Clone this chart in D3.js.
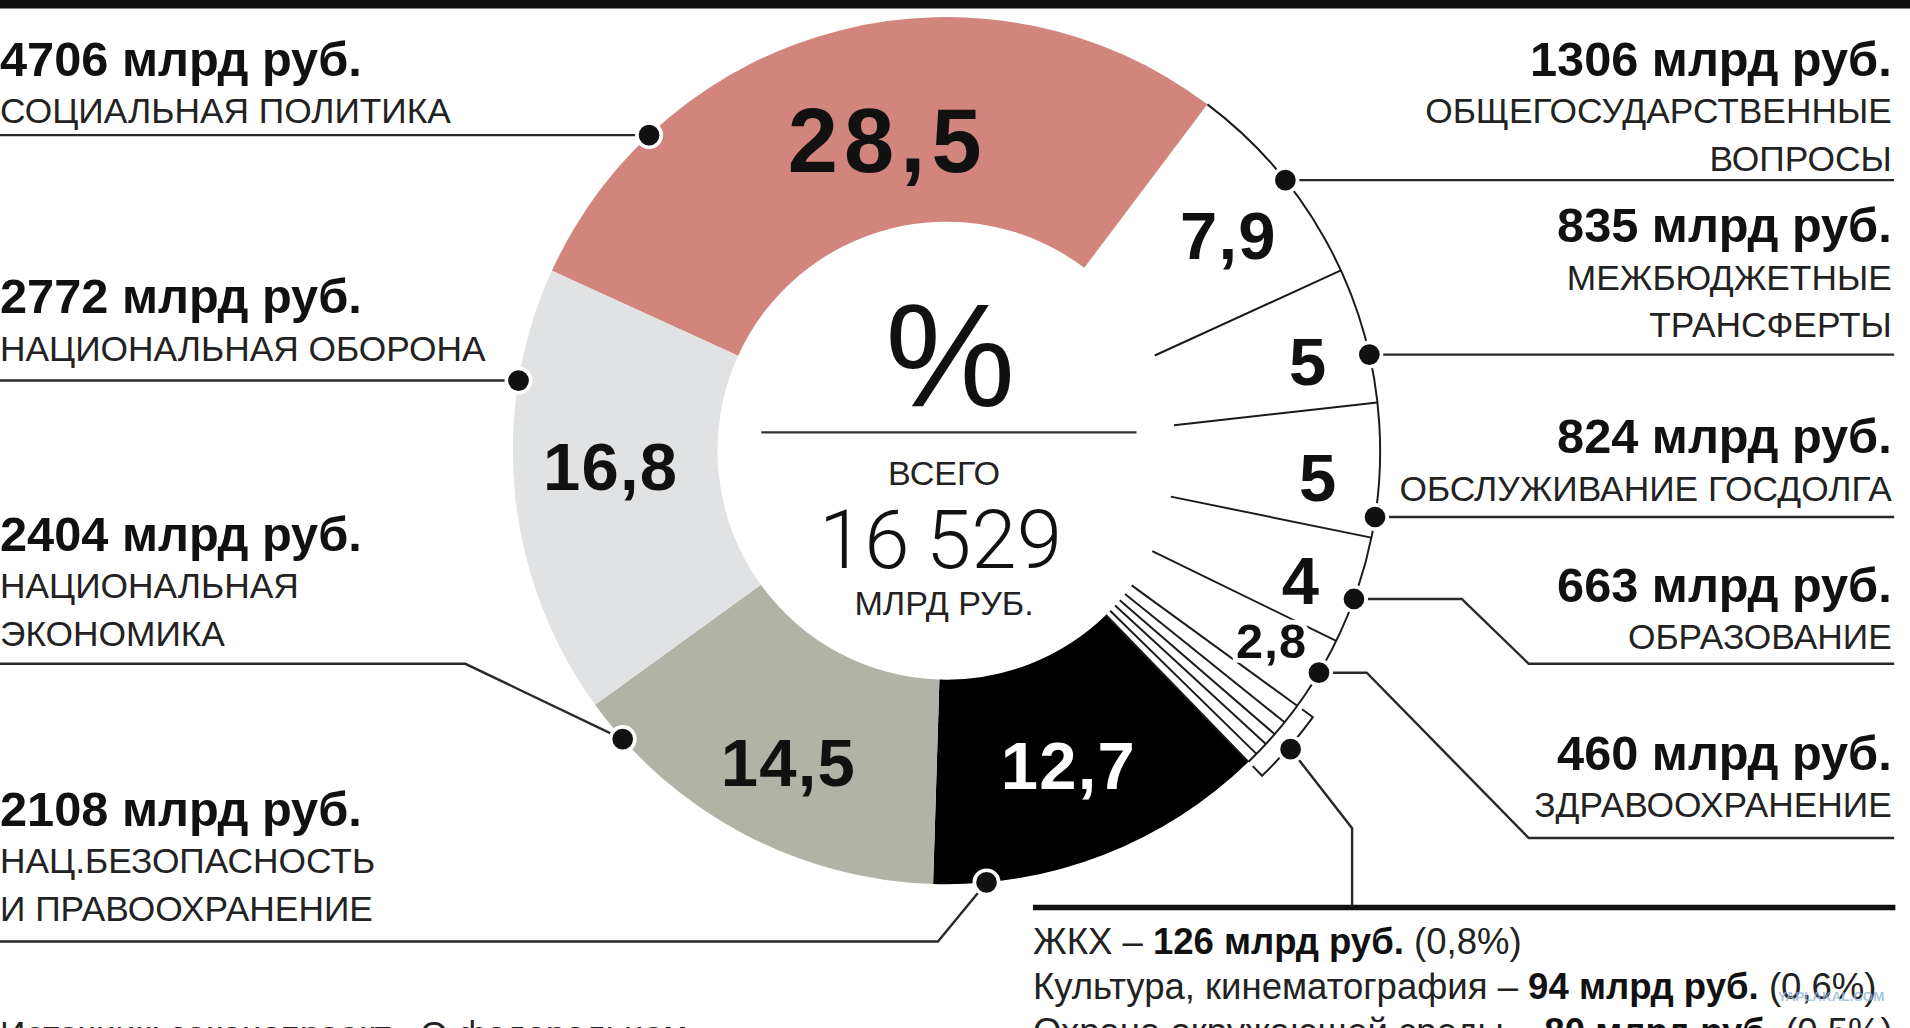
<!DOCTYPE html>
<html>
<head>
<meta charset="utf-8">
<script src="https://cdn.jsdelivr.net/npm/d3@7"></script>
<style>
    body { margin: 0; background: #fff; overflow: hidden; }
    svg text { font-family: "Liberation Sans", Arial, Helvetica, sans-serif; }
</style>
</head>
<body>
<div id="budget-chart"></div>
<script>

// Budget sections, clockwise from the top-left (млрд руб.)
var categories = [
    "СОЦИАЛЬНАЯ ПОЛИТИКА", "ОБЩЕГОСУДАРСТВЕННЫЕ ВОПРОСЫ", "МЕЖБЮДЖЕТНЫЕ ТРАНСФЕРТЫ",
    "ОБСЛУЖИВАНИЕ ГОСДОЛГА", "ОБРАЗОВАНИЕ", "ЗДРАВООХРАНЕНИЕ",
    "ЖКХ", "Культура, кинематография", "Охрана окружающей среды",
    "Средства массовой информации", "Физическая культура и спорт",
    "НАЦ.БЕЗОПАСНОСТЬ И ПРАВООХРАНЕНИЕ", "НАЦИОНАЛЬНАЯ ЭКОНОМИКА", "НАЦИОНАЛЬНАЯ ОБОРОНА"
];
var amounts = [4706, 1306, 835, 824, 663, 460, 126, 94, 80, 83, 68, 2108, 2404, 2772];
var shares = ["28,5", "7,9", "5", "5", "4", "2,8", "0,8", "0,6", "0,5", "0,5", "0,4", "12,7", "14,5", "16,8"];
var captions = [
    ["СОЦИАЛЬНАЯ ПОЛИТИКА"], ["ОБЩЕГОСУДАРСТВЕННЫЕ", "ВОПРОСЫ"], ["МЕЖБЮДЖЕТНЫЕ", "ТРАНСФЕРТЫ"],
    ["ОБСЛУЖИВАНИЕ ГОСДОЛГА"], ["ОБРАЗОВАНИЕ"], ["ЗДРАВООХРАНЕНИЕ"],
    [], [], [], [], [],
    ["НАЦ.БЕЗОПАСНОСТЬ", "И ПРАВООХРАНЕНИЕ"], ["НАЦИОНАЛЬНАЯ", "ЭКОНОМИКА"], ["НАЦИОНАЛЬНАЯ ОБОРОНА"]
];
var sourceText = ["Источник: законопроект «О федеральном", "бюджете на 2018 год и плановый период»"];


DonutVis = function(_parentElement) {
    this.parentElement = _parentElement;
    this.displayData = [];

    this.initVis();
};

/* INITIALIZE VISUALIZATION */
DonutVis.prototype.initVis = function() {
    var vis = this;

    // drawing is done in the 1568x844 space of the original graphic
    vis.width = 1568;
    vis.height = 844;
    vis.cx = 777;
    vis.cy = 370;
    vis.outerR = 356;
    vis.innerR = 188;

    vis.svg = d3.select("#" + vis.parentElement).append("svg")
        .attr("width", 1910)
        .attr("height", 1028)
        .attr("viewBox", "0 0 " + vis.width + " " + vis.height)
        .attr("preserveAspectRatio", "none");

    vis.svg.append("rect")
        .attr("width", vis.width)
        .attr("height", 7)
        .attr("fill", "#111");

    vis.color = d3.scaleOrdinal()
        .domain(categories)
        .range(["#d2857d", "none", "none", "none", "none", "none",
                "none", "none", "none", "none", "none",
                "#000", "#b1b3a6", "#e1e2e4"]);

    var start = -65.5 * Math.PI / 180;
    vis.pie = d3.pie()
        .sort(null)
        .value(function(d) { return d.value; })
        .startAngle(start)
        .endAngle(start + 2 * Math.PI);

    vis.arc = d3.arc()
        .innerRadius(vis.innerR)
        .outerRadius(vis.outerR);

    // callout layout: dot angle on the rim and the leader route to the text
    vis.callouts = [
        { i: 0,  side: "left",  top: 62,  angle: 316.7, route: [[0, null]] },
        { i: 13, side: "left",  top: 257, angle: 279.3, route: [[0, null]] },
        { i: 12, side: "left",  top: 452, angle: 228.3, route: [[382, 545], [0, 545]] },
        { i: 11, side: "left",  top: 678, angle: 174.7, route: [[770, 773], [0, 773]] },
        { i: 1,  side: "right", top: 62,  angle: 51.4,  route: [[1555, null]] },
        { i: 2,  side: "right", top: 199, angle: 77.2,  route: [[1555, null]] },
        { i: 3,  side: "right", top: 372, angle: 98.8,  route: [[1555, null]] },
        { i: 4,  side: "right", top: 494, angle: 110,   route: [[1200, null], [1255, 545], [1555, 545]] },
        { i: 5,  side: "right", top: 632, angle: 120.8, route: [[1122, null], [1255, 688], [1555, 688]] }
    ];

    // small hand corrections of the share labels
    vis.labelNudge = { 0: [20, 13], 1: [-12, 8], 4: [4, 0], 5: [9, -9], 12: [0, 11], 13: [0, -15] };

    vis.ring = vis.svg.append("g")
        .attr("transform", "translate(" + vis.cx + "," + vis.cy + ")");

    vis.wrangleData();
};

DonutVis.prototype.wrangleData = function() {
    var vis = this;

    vis.displayData = categories.map(function(c, i) {
        return {
            index: i,
            name: c,
            value: amounts[i],
            share: shares[i],
            shareNum: +shares[i].replace(",", "."),
            caption: captions[i]
        };
    });
    vis.arcs = vis.pie(vis.displayData);
    vis.total = d3.sum(amounts);

    vis.updateVis();
};

DonutVis.prototype.pt = function(r, a) {
    return [r * Math.sin(a), -r * Math.cos(a)];
};

DonutVis.prototype.updateVis = function() {
    var vis = this;
    var deg = Math.PI / 180;

    var isWhite = function(d) { return vis.color(d.data.name) === "none"; };

    // colored slices
    vis.ring.selectAll("path.slice")
        .data(vis.arcs.filter(function(d) { return !isWhite(d); }))
        .enter().append("path")
        .attr("class", "slice")
        .attr("d", vis.arc)
        .attr("fill", function(d) { return vis.color(d.data.name); });

    // white slices: outline on the rim and radial dividers
    var white = vis.arcs.filter(isWhite);
    var a0 = d3.min(white, function(d) { return d.startAngle; });
    var a1 = d3.max(white, function(d) { return d.endAngle; });

    vis.ring.append("path")
        .attr("d", d3.arc().innerRadius(vis.outerR).outerRadius(vis.outerR)({ startAngle: a0, endAngle: a1 }))
        .attr("fill", "none")
        .attr("stroke", "#1a1a1a")
        .attr("stroke-width", 1.6);

    var dividers = white.slice(1).map(function(d) { return d.startAngle; }).concat([a1]);
    vis.ring.selectAll("line.divider")
        .data(dividers)
        .enter().append("line")
        .attr("class", "divider")
        .attr("x1", function(a) { return vis.pt(vis.innerR, a)[0]; })
        .attr("y1", function(a) { return vis.pt(vis.innerR, a)[1]; })
        .attr("x2", function(a) { return vis.pt(vis.outerR, a)[0]; })
        .attr("y2", function(a) { return vis.pt(vis.outerR, a)[1]; })
        .attr("stroke", "#1a1a1a")
        .attr("stroke-width", 1.6);

    // bracket around the tiny slices
    var small = vis.arcs.filter(function(d) { return d.data.shareNum < 1; });
    var s0 = d3.min(small, function(d) { return d.startAngle; });
    var s1 = d3.max(small, function(d) { return d.endAngle; });
    var bp = d3.path();
    var p = vis.pt(vis.outerR + 5, s0);
    bp.moveTo(p[0], p[1]);
    p = vis.pt(vis.outerR + 16, s0);
    bp.lineTo(p[0], p[1]);
    bp.arc(0, 0, vis.outerR + 16, s0 - Math.PI / 2, s1 - Math.PI / 2);
    p = vis.pt(vis.outerR + 5, s1);
    bp.lineTo(p[0], p[1]);
    vis.ring.append("path")
        .attr("d", bp.toString())
        .attr("fill", "none")
        .attr("stroke", "#1a1a1a")
        .attr("stroke-width", 1.6);

    // share labels inside the ring
    var labelled = vis.arcs.filter(function(d) { return d.data.shareNum >= 1; });
    vis.ring.selectAll("text.share")
        .data(labelled)
        .enter().append("text")
        .attr("class", "share")
        .attr("transform", function(d) {
            var mid = (d.startAngle + d.endAngle) / 2;
            var r = isWhite(d) ? 306 : 277;
            if (isWhite(d)) mid += 1.5 * deg;
            var c = vis.pt(r, mid);
            var n = vis.labelNudge[d.data.index] || [0, 0];
            return "translate(" + (c[0] + n[0]) + "," + (c[1] + n[1]) + ")";
        })
        .attr("text-anchor", "middle")
        .attr("dy", "0.36em")
        .attr("font-weight", "bold")
        .attr("font-size", function(d) { return d.data.shareNum > 20 ? 74 : (d.data.shareNum < 3 ? 40 : 55); })
        .attr("letter-spacing", function(d) { return d.data.shareNum > 20 ? 5 : 1; })
        .attr("fill", function(d) { return vis.color(d.data.name) === "#000" ? "#fff" : "#111"; })
        .attr("stroke", function(d) { return isWhite(d) ? "#fff" : "none"; })
        .attr("stroke-width", 8)
        .attr("paint-order", "stroke")
        .text(function(d) { return d.data.share; });

    // center block
    var center = vis.ring.append("g");
    center.append("text")
        .attr("x", 3).attr("y", -37)
        .attr("text-anchor", "middle")
        .attr("font-size", 120)
        .attr("fill", "#111")
        .text("%");
    center.append("line")
        .attr("x1", -152).attr("x2", 156)
        .attr("y1", -15).attr("y2", -15)
        .attr("stroke", "#333")
        .attr("stroke-width", 2);
    center.append("text")
        .attr("x", -2).attr("y", 28)
        .attr("text-anchor", "middle")
        .attr("font-size", 28)
        .attr("fill", "#222")
        .text("ВСЕГО");
    center.append("text")
        .attr("x", -5).attr("y", 96)
        .attr("text-anchor", "middle")
        .attr("font-size", 67)
        .attr("font-weight", 300)
        .style("font-family", "Roboto, 'Liberation Sans', sans-serif")
        .attr("fill", "#111")
        .text(d3.format(",")(vis.total).replace(",", "\u2009"));
    center.append("text")
        .attr("x", -2).attr("y", 135)
        .attr("text-anchor", "middle")
        .attr("font-size", 28)
        .attr("fill", "#222")
        .text("МЛРД РУБ.");

    // callouts
    var lineGen = d3.line();
    var callG = vis.svg.selectAll("g.callout")
        .data(vis.callouts)
        .enter().append("g")
        .attr("class", "callout");

    callG.each(function(c) {
        var g = d3.select(this);
        var d = vis.displayData[c.i];
        var dp = vis.pt(356, c.angle * deg);
        var dot = [vis.cx + dp[0], vis.cy + dp[1]];
        var pts = [dot].concat(c.route.map(function(q) { return [q[0], q[1] === null ? dot[1] : q[1]]; }));

        g.append("path")
            .attr("d", lineGen(pts))
            .attr("fill", "none")
            .attr("stroke", "#2a2a2a")
            .attr("stroke-width", 2);

        g.append("circle")
            .attr("cx", dot[0]).attr("cy", dot[1])
            .attr("r", 10)
            .attr("fill", "#111")
            .attr("stroke", "#fff")
            .attr("stroke-width", 3);

        var x = c.side === "left" ? 0 : 1553;
        var anchor = c.side === "left" ? "start" : "end";
        g.append("text")
            .attr("x", x).attr("y", c.top)
            .attr("text-anchor", anchor)
            .attr("font-size", 40)
            .attr("font-weight", "bold")
            .attr("fill", "#111")
            .text(d.value + " млрд руб.");
        d.caption.forEach(function(line, k) {
            g.append("text")
                .attr("x", x).attr("y", c.top + 39 + 39 * k)
                .attr("text-anchor", anchor)
                .attr("font-size", 29)
                .attr("fill", "#222")
                .text(line);
        });
    });

    // tiny slices: dot on the bracket and the footnote list
    var sm = vis.pt(vis.outerR + 18, (s0 + s1) / 2);
    var sdot = [vis.cx + sm[0], vis.cy + sm[1]];
    vis.svg.append("path")
        .attr("d", lineGen([sdot, [1110, 680], [1110, 745]]))
        .attr("fill", "none")
        .attr("stroke", "#2a2a2a")
        .attr("stroke-width", 2);
    vis.svg.append("circle")
        .attr("cx", sdot[0]).attr("cy", sdot[1])
        .attr("r", 10)
        .attr("fill", "#111")
        .attr("stroke", "#fff")
        .attr("stroke-width", 3);

    vis.svg.append("line")
        .attr("x1", 848).attr("x2", 1556)
        .attr("y1", 745).attr("y2", 745)
        .attr("stroke", "#111")
        .attr("stroke-width", 4.5);

    var notes = vis.svg.selectAll("text.note")
        .data(small.map(function(d) { return d.data; }))
        .enter().append("text")
        .attr("class", "note")
        .attr("x", 848)
        .attr("y", function(d, k) { return 783 + 37 * k; })
        .attr("font-size", 30)
        .attr("fill", "#222");
    notes.append("tspan").text(function(d) { return d.name + " \u2013 "; });
    notes.append("tspan").attr("font-weight", "bold").attr("fill", "#111")
        .text(function(d) { return d.value + " млрд руб."; });
    notes.append("tspan").text(function(d) { return " (" + d.share + "%)"; });

    // source, cut by the bottom edge like in the original
    vis.svg.selectAll("text.source")
        .data(sourceText)
        .enter().append("text")
        .attr("class", "source")
        .attr("x", 0)
        .attr("y", function(d, k) { return 859 + 37 * k; })
        .attr("font-size", 29)
        .attr("fill", "#222")
        .text(function(d) { return d; });

    vis.svg.append("text")
        .attr("x", 1547).attr("y", 822)
        .attr("text-anchor", "end")
        .attr("font-size", 11)
        .attr("font-weight", "bold")
        .attr("fill", "#8fb4dc")
        .attr("fill-opacity", 0.8)
        .text("YAPLAKAL.COM");
};

var donut = new DonutVis("budget-chart");

</script>
</body>
</html>
